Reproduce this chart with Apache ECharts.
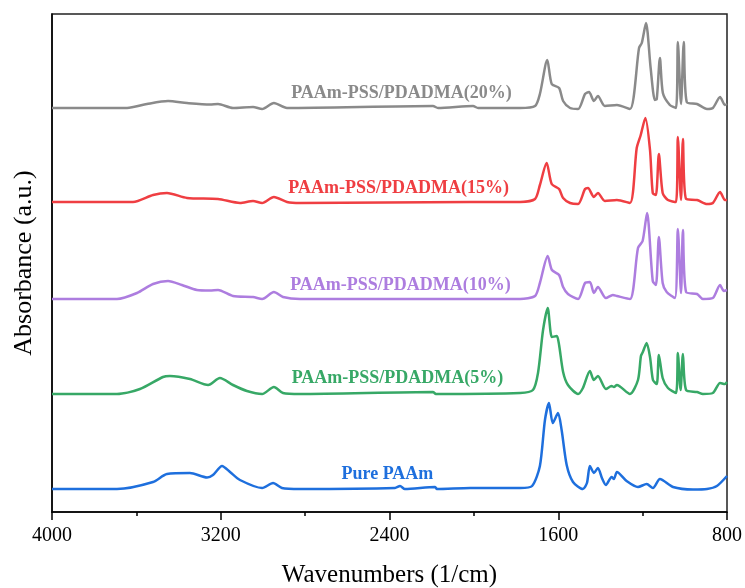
<!DOCTYPE html>
<html><head><meta charset="utf-8">
<script src="https://cdn.jsdelivr.net/npm/echarts@6/dist/echarts.min.js"></script>
<style>html,body{margin:0;padding:0;background:#fff}#c{width:745px;height:588px}</style>
</head><body><div id="c"></div>
<script>
const seriesNames = ['Pure PAAm','PAAm-PSS/PDADMA(5%)','PAAm-PSS/PDADMA(10%)','PAAm-PSS/PDADMA(15%)','PAAm-PSS/PDADMA(20%)'];
const seriesColors = ['#1e6fdd','#37a866','#ad7ddf','#ef3e42','#8a8a8a'];
const xTicks = [800,1600,2400,3200,4000];

const pureWn  = [4000,3692,3521,3455,3346,3265,3237,3194,3156,3109,3004,2952,2910,2824,2374,2350,2327,2184,2175,2018,1781,1724,1687,1663,1644,1626,1601,1584,1560,1530,1483,1464,1450,1431,1412,1393,1374,1347,1336,1322,1276,1222,1181,1151,1118,1056,961,895,848,800];
const pureAbs = [23,23,30,38,39,34.5,37,46,40,32,24,29,24,23,24,26,23,25,23,24,24,26,46,92,109,89,99,82,47,30,23,29,46,39,44,34,27,35,33,40,31,25,28,24,33,25,22.5,23,26,36];

const p5Wn  = [4000,3692,3583,3474,3441,3346,3260,3204,3142,3076,3004,2948,2905,2824,2194,2180,1781,1720,1696,1672,1650,1630,1607,1596,1577,1554,1506,1483,1450,1431,1412,1374,1347,1336,1322,1260,1222,1208,1199,1181,1165,1151,1133,1123,1105,1080,1042,1033,1020,1009,994,942,914,867,833,810,800];
const p5Abs = [118,118,123,135,136,133,127,134,127,121,118,125,119,118,120,118,119,122,139,182,204,175,176,167,140,127,118,124,141,132,136,123,126,125,127,118,132,156,160,169,155,132,128,157,134,124,119,159,122,158,122,120,118,119,129,128,130];

const p10Wn  = [4000,3692,3597,3521,3450,3384,3313,3251,3213,3142,3047,3004,2948,2905,2824,1781,1710,1687,1650,1630,1596,1577,1554,1506,1473,1450,1431,1412,1374,1341,1322,1260,1222,1200,1179,1152,1137,1123,1105,1086,1047,1033,1018,1009,994,942,914,867,833,815,800];
const p10Abs = [213,213,219,228,231,227,222,221.5,222,216,215,213,220,215,213,213,216,229,256,242,237,225,218,213,229,230,219,225,214,217,216,213,264,271,299,231,227,275,229,220,214,283,219,282,220,218,213,214,227,221,222];

const p15Wn  = [4000,3616,3521,3455,3360,3213,3109,3047,3004,2948,2886,2824,2018,1781,1710,1687,1655,1631,1596,1577,1544,1506,1473,1459,1431,1412,1379,1322,1260,1228,1209,1187,1165,1152,1137,1123,1105,1080,1042,1033,1018,1009,994,942,895,867,833,810,800];
const p15Abs = [310,310,317,319,314,313,309,311,309,315,310,309,310,310,313,327,349,328,323,314,309,308,323,324,315,319,311,312,309,364,377,394,362,319,317,358,319,312,310,375,312,373,313,312,308,309,320,312,312];

const p20Wn  = [4000,3644,3550,3450,3360,3251,3213,3142,3047,3004,2948,2886,2194,2170,2004,1980,1781,1710,1687,1652,1631,1596,1577,1544,1506,1473,1454,1431,1412,1379,1322,1260,1217,1204,1184,1162,1142,1133,1118,1104,1071,1042,1033,1018,1005,991,942,895,867,833,810,800];
const p20Abs = [404,404,408,411,409,407.5,408,404,405,403,409,404,406,404,406,404,404,406,418,452,428,424,411,404,403,418,420,411,416,406,407,403,464,469,489,444,412,413,454,419,407,404,470,408,470,410,408,403,404,415,407,408];

const labelWn  = [2410,2362,2348,2357,2343];
const labelAbs = [38,134,227,324,419];

const wnSets  = [pureWn,p5Wn,p10Wn,p15Wn,p20Wn];
const absSets = [pureAbs,p5Abs,p10Abs,p15Abs,p20Abs];
const serif = '"Liberation Serif","Times New Roman",serif';

const chart = echarts.init(document.getElementById('c'));
const series = seriesNames.map((name,i)=>({
  name, type:'line', showSymbol:false, smooth:0.25,
  lineStyle:{color:seriesColors[i], width:2.5},
  itemStyle:{color:seriesColors[i]},
  data: wnSets[i].map((w,k)=>[w, absSets[i][k]]),
  markPoint:{
    symbol:'rect', symbolSize:[1,1], silent:true,
    itemStyle:{color:'rgba(0,0,0,0)'},
    data:[{coord:[labelWn[i], labelAbs[i]], value:name}],
    label:{show:true, position:'inside', formatter:name, color:seriesColors[i],
      fontFamily:serif, fontWeight:'bold', fontSize:18}
  }
}));

chart.setOption({
  animation:false,
  grid:{left:52, right:18, top:14, bottom:76, outerBoundsMode:'none', containLabel:false,
    show:true, borderColor:'#222', borderWidth:1.5, backgroundColor:'transparent'},
  xAxis:{
    type:'value', inverse:true, min:800, max:4000, interval:800,
    axisLine:{show:true, lineStyle:{color:'#000', width:1.5}},
    axisTick:{show:true, inside:false, length:8, lineStyle:{color:'#000', width:1.5}},
    minorTick:{show:true, splitNumber:2, length:4, lineStyle:{color:'#000', width:1.5}},
    splitLine:{show:false},
    axisLabel:{color:'#000', fontFamily:serif, fontSize:20, margin:14,
      formatter:v=> xTicks.includes(v) ? String(v) : ''},
    name:'Wavenumbers (1/cm)', nameLocation:'middle', nameGap:51,
    nameTextStyle:{color:'#000', fontFamily:serif, fontSize:25}
  },
  yAxis:{
    type:'value', min:0, max:498,
    axisLine:{show:true, lineStyle:{color:'#000', width:1.5}},
    axisTick:{show:false}, axisLabel:{show:false}, splitLine:{show:false},
    name:'Absorbance (a.u.)', nameLocation:'middle', nameGap:15,
    nameTextStyle:{color:'#000', fontFamily:serif, fontSize:26}
  },
  series
});
</script></body></html>
